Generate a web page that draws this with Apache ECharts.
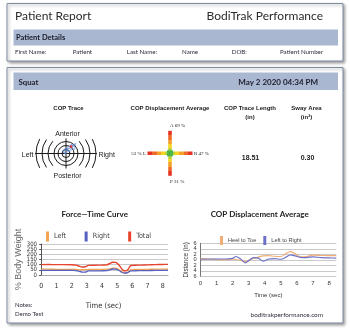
<!DOCTYPE html>
<html>
<head>
<meta charset="utf-8">
<script src="https://cdn.jsdelivr.net/npm/echarts@6/dist/echarts.min.js"></script>
<style>
  html, body { margin: 0; padding: 0; background: #fff; }
  #report { width: 350px; height: 328px; }
</style>
</head>
<body>
<div id="report"></div>
<script>
// ---- Force–time curve (% body weight) ----
const forceTime  = [0, 0.5, 1, 1.5, 2, 2.3, 2.5, 2.7, 2.9, 3.1, 3.5, 4, 4.3, 4.5, 4.7, 4.9, 5.1, 5.3, 5.5, 5.7, 5.9, 6.2, 6.6, 7, 7.5, 8, 8.35];
const forceLeft  = [56, 56, 55, 55, 55, 53, 50, 51, 52, 54, 55, 55, 56, 60, 66, 66, 54, 33, 21, 28, 52, 54, 54, 55, 56, 57, 58];
const forceRight = [44, 45, 45, 45, 44, 42, 35, 27, 28, 39, 40, 41, 42, 50, 58, 56, 46, 27, 17, 22, 40, 41, 42, 43, 44, 45, 45];
const forceTotal = [100, 101, 100, 100, 99, 95, 85, 78, 80, 93, 95, 96, 98, 110, 124, 122, 100, 60, 38, 50, 92, 95, 96, 98, 100, 102, 103];
const timeTicks  = [0, 1, 2, 3, 4, 5, 6, 7, 8];
const forceTicks = [0, 50, 100, 150, 200, 250, 300];

// ---- COP displacement over time (in) ----
const copTime     = [0, 0.5, 1, 1.5, 2, 2.2, 2.5, 2.8, 3.0, 3.3, 3.6, 3.9, 4.2, 4.6, 5.0, 5.3, 5.6, 5.9, 6.2, 6.6, 7, 7.5, 8, 8.45];
const heelToToe   = [0.4, 0.2, 0.1, 0.0, 0.2, 0.1, -0.2, -0.7, -0.2, 0.5, 1.0, 1.4, 1.5, 1.3, 1.2, 2.2, 3.0, 2.2, 1.1, 1.2, 1.7, 1.6, 1.5, 1.5];
const leftToRight = [0.2, 0.3, 0.3, 0.3, 0.5, 1.2, 0.3, -1.1, -0.3, 0.8, 0.6, -0.5, 0.2, 0.4, 0.2, 0.9, 1.8, 1.4, 0.9, 0.8, 1.1, 0.8, 0.7, 0.6];
const distTicks   = [-6, -4, -2, 0, 2, 4, 6];

// ---- COP trace path (mediolateral x, anteroposterior y) ----
const traceX = [-1, -3, -2, 0, 2, 1, -1, -2, 0, 3, 5, 4, 2, 1, 3, 6, 8, 9, 7, 5, 4, 6, 8, 10, 8, 5];
const traceY = [0, 2, 4, 5, 3, 1, 0, 2, 4, 5, 4, 2, 3, 5, 7, 6, 4, 6, 8, 9, 7, 6, 8, 10, 9, 7];

// ---- Summary values ----
const dispAnterior = 69, dispPosterior = 31, dispLeft = 53, dispRight = 47;
const traceLength = 18.51, swayArea = 0.30;

const pairs = (xs, ys) => xs.map((x, i) => [x, ys[i]]);
// alternate ticks, so that each of two stacked label sets stays legible
const evenTicks = ts => ts.filter((_, i) => i % 2 === 0);
const oddTicks = ts => ts.filter((_, i) => i % 2 === 1);

const CAL = "Lato, 'Open Sans', sans-serif";
const ARIAL = "'Liberation Sans', Arial, sans-serif";
const NARROW = "'Liberation Sans Narrow', 'DejaVu Sans Condensed', 'Liberation Sans', sans-serif";
const SERIF = "'Liberation Serif', 'DejaVu Serif', serif";

function txt(x, y, text, size, opts) {
  opts = opts || {};
  return {
    type: 'text', x: x, y: y, z: 5,
    style: {
      text: text, fontSize: size, fontFamily: opts.font || CAL,
      fontWeight: opts.bold ? 'bold' : 'normal',
      fill: opts.color || '#222', align: opts.align || 'left', verticalAlign: 'middle'
    }
  };
}

// target rings of the trace plot
const tcx = 66, tcy = 153.5;
const rings = [4, 8, 12].map(r => ({
  type: 'circle', z: 3, shape: { cx: tcx, cy: tcy, r: r },
  style: { fill: 'none', stroke: '#1a1a1a', lineWidth: 1 }
}));
const arcs = [];
[[18, 0.75], [24, 0.62], [30, 0.5]].forEach(([r, a]) => {
  arcs.push({ type: 'arc', z: 3, shape: { cx: tcx, cy: tcy, r: r, startAngle: -a, endAngle: a },
    style: { fill: 'none', stroke: '#1a1a1a', lineWidth: 1 } });
  arcs.push({ type: 'arc', z: 3, shape: { cx: tcx, cy: tcy, r: r, startAngle: Math.PI - a, endAngle: Math.PI + a },
    style: { fill: 'none', stroke: '#1a1a1a', lineWidth: 1 } });
});

// colour scale of the displacement cross
const scaleStops = [
  [0, '#e53325'], [0.1, '#e53325'], [0.1, '#ef6a2a'], [0.2, '#ef6a2a'], [0.2, '#f3a12c'], [0.3, '#f3a12c'],
  [0.3, '#f5d423'], [0.38, '#f5d423'], [0.38, '#b9d233'], [0.44, '#b9d233'], [0.44, '#4cb64a'], [0.56, '#4cb64a'],
  [0.56, '#b9d233'], [0.62, '#b9d233'], [0.62, '#f5d423'], [0.7, '#f5d423'], [0.7, '#f3a12c'], [0.8, '#f3a12c'],
  [0.8, '#ef6a2a'], [0.9, '#ef6a2a'], [0.9, '#e53325'], [1, '#e53325']
].map(([o, c]) => ({ offset: o, color: c }));
const ccx = 170, ccy = 153.3, half = 22.5, bw = 3.6;

const boxStyle = {
  fill: '#fff', stroke: '#7e8ca2', lineWidth: 1,
  shadowBlur: 3, shadowOffsetX: 1.5, shadowOffsetY: 1.5, shadowColor: 'rgba(0,0,0,0.35)'
};

const graphics = [
  { type: 'rect', z: 0, shape: { x: 7, y: 3.5, width: 336, height: 57.5 }, style: boxStyle },
  { type: 'rect', z: 0, shape: { x: 7, y: 67.5, width: 336, height: 255.5 }, style: boxStyle },
  { type: 'rect', z: 1, shape: { x: 13.5, y: 29.5, width: 324.5, height: 16 }, style: { fill: '#a9b7d1' } },
  { type: 'rect', z: 1, shape: { x: 13.5, y: 72.5, width: 324.5, height: 17.5 }, style: { fill: '#a9b7d1' } },

  txt(15, 15.7, 'Patient Report', 12, { color: '#2b2b2b' }),
  txt(323, 15.7, 'BodiTrak Performance', 12, { color: '#2b2b2b', align: 'right' }),
  txt(16, 37.6, 'Patient Details', 7.5, { bold: true, color: '#1c1c2a' }),
  txt(15, 52.4, 'First Name:', 6.2, { color: '#2a2a3a' }),
  txt(72.7, 52.4, 'Patient', 6.2, { color: '#2a2a3a' }),
  txt(126.7, 52.4, 'Last Name:', 6.2, { color: '#2a2a3a' }),
  txt(182, 52.4, 'Name', 6.2, { color: '#2a2a3a' }),
  txt(231.7, 52.4, 'DOB:', 6.2, { color: '#2a2a3a' }),
  txt(280, 52.4, 'Patient Number', 6.2, { color: '#2a2a3a' }),

  txt(18.5, 82, 'Squat', 7.8, { bold: true, color: '#1c1c2a' }),
  txt(318, 82, 'May 2 2020 04:34 PM', 8, { bold: true, color: '#1c1c2a', align: 'right' }),

  txt(68.5, 108.4, 'COP Trace', 6, { bold: true, font: ARIAL, align: 'center' }),
  txt(170, 108.4, 'COP Displacement Average', 6, { bold: true, font: ARIAL, align: 'center' }),
  txt(250, 108.4, 'COP Trace Length', 6, { bold: true, font: ARIAL, align: 'center' }),
  txt(250, 117.7, '(in)', 6, { bold: true, font: ARIAL, align: 'center' }),
  txt(306.5, 108.4, 'Sway Area', 6, { bold: true, font: ARIAL, align: 'center' }),
  txt(306.5, 117.7, '(in\u00b2)', 6, { bold: true, font: ARIAL, align: 'center' }),
  txt(250.5, 158.3, traceLength.toFixed(2), 7, { bold: true, font: ARIAL, align: 'center' }),
  txt(307.5, 158.3, swayArea.toFixed(2), 7, { bold: true, font: ARIAL, align: 'center' }),

  // trace plot crosshair and labels
  { type: 'line', z: 3, shape: { x1: tcx - 31, y1: tcy, x2: tcx + 31, y2: tcy }, style: { stroke: '#1a1a1a', lineWidth: 1 } },
  { type: 'line', z: 3, shape: { x1: tcx, y1: tcy - 15, x2: tcx, y2: tcy + 15 }, style: { stroke: '#1a1a1a', lineWidth: 1 } },
  ...rings, ...arcs,
  txt(67.5, 133.8, 'Anterior', 7, { font: ARIAL, align: 'center' }),
  txt(67.5, 176, 'Posterior', 7, { font: ARIAL, align: 'center' }),
  txt(33.5, 155, 'Left', 7, { font: ARIAL, align: 'right' }),
  txt(98.5, 155, 'Right', 7, { font: ARIAL }),

  // displacement cross
  { type: 'rect', z: 3, shape: { x: ccx - half, y: ccy - bw / 2, width: half * 2, height: bw },
    style: { fill: { type: 'linear', x: 0, y: 0, x2: 1, y2: 0, colorStops: scaleStops } } },
  { type: 'rect', z: 3, shape: { x: ccx - bw / 2, y: ccy - half, width: bw, height: half * 2 },
    style: { fill: { type: 'linear', x: 0, y: 0, x2: 0, y2: 1, colorStops: scaleStops } } },
  { type: 'rect', z: 4, shape: { x: ccx - 3, y: ccy - 3, width: 6, height: 6 }, style: { fill: '#4cb64a' } },
  txt(ccx, ccy - half - 5, 'A ' + dispAnterior + ' %', 5, { font: SERIF, align: 'left' }),
  txt(ccx, ccy + half + 5.5, 'P ' + dispPosterior + ' %', 5, { font: SERIF, align: 'left' }),
  txt(ccx - half - 1.5, ccy, dispLeft + ' % L', 5, { font: SERIF, align: 'right' }),
  txt(ccx + half + 1.5, ccy, 'R ' + dispRight + ' %', 5, { font: SERIF, align: 'left' }),

  // chart titles
  txt(94.7, 214, 'Force\u2014Time Curve', 8, { bold: true, align: 'center' }),
  txt(259.7, 214.3, 'COP Displacement Average', 8, { bold: true, align: 'center' }),

  // footer
  txt(15, 305, 'Notes:', 6, { color: '#2a2a3a' }),
  txt(15, 314.5, 'Demo Test', 6, { color: '#2a2a3a' }),
  txt(323, 314.5, 'boditrakperformance.com', 6.4, { color: '#2a2a3a', align: 'right' })
];

const chart = echarts.init(document.getElementById('report'), null, { renderer: 'canvas' });

const legendText = (font, size) => ({ fontFamily: font, fontSize: size, color: '#444' });

// secondary axis carrying the in-between tick labels of a grid
function labelAxis(gridIndex, min, max, ticks, font, size, margin, formatter) {
  return {
    gridIndex: gridIndex, type: 'value', position: 'left', min: min, max: max,
    axisLine: { show: false }, axisTick: { show: false }, splitLine: { show: false },
    axisLabel: { customValues: ticks, fontFamily: font, fontSize: size, color: '#333', margin: margin,
      hideOverlap: false, showMinLabel: true, showMaxLabel: true, formatter: formatter }
  };
}
const absLabel = v => String(Math.abs(v));

chart.setOption({
  animation: false,
  backgroundColor: '#fff',
  graphic: { elements: graphics },
  legend: [
    {
      data: ['Left', 'Right', 'Total'], left: 41, top: 226.5,
      icon: 'rect', itemWidth: 3, itemHeight: 10, itemGap: 18.5,
      textStyle: legendText(NARROW, 7.2)
    },
    {
      data: ['Heel to Toe', 'Left to Right'], left: 215, top: 231,
      icon: 'rect', itemWidth: 3, itemHeight: 9, itemGap: 7,
      textStyle: legendText(ARIAL, 5.6)
    }
  ],
  grid: [
    { left: 39, top: 244, width: 129, height: 31 },
    { left: 200.5, top: 243.3, width: 135.8, height: 33 },
    { left: tcx - 32, top: tcy - 32, width: 64, height: 64 }
  ],
  xAxis: [
    {
      gridIndex: 0, type: 'value', min: -0.15, max: 8.35,
      name: 'Time (sec)', nameLocation: 'middle', nameGap: 27,
      nameTextStyle: { fontFamily: NARROW, fontSize: 7.6, color: '#333' },
      axisLine: { show: true, lineStyle: { color: '#aaa' } },
      axisTick: { show: false },
      splitLine: { show: false },
      axisLabel: { customValues: timeTicks, fontFamily: NARROW, fontSize: 7, color: '#333', margin: 8 }
    },
    {
      gridIndex: 1, type: 'value', min: 0, max: 8.45,
      name: 'Time (sec)', nameLocation: 'middle', nameGap: 16,
      nameTextStyle: { fontFamily: ARIAL, fontSize: 6, color: '#333' },
      axisLine: { show: false },
      axisTick: { show: false },
      splitLine: { show: false },
      axisLabel: { customValues: timeTicks, fontFamily: ARIAL, fontSize: 6, color: '#333', margin: 4 }
    },
    { gridIndex: 2, type: 'value', min: -32, max: 32, show: false }
  ],
  yAxis: [
    {
      gridIndex: 0, type: 'value', position: 'left',
      min: forceTicks[0], max: forceTicks[forceTicks.length - 1], interval: 50,
      name: '% Body Weight', nameLocation: 'middle', nameRotate: 90, nameGap: 16,
      nameTextStyle: { fontFamily: ARIAL, fontSize: 9, color: '#666' },
      axisLine: { show: true, lineStyle: { color: '#555' } },
      axisTick: { show: true, length: 2, lineStyle: { color: '#555' } },
      splitLine: { lineStyle: { color: '#c9c9c9' } },
      axisLabel: { customValues: evenTicks(forceTicks), fontFamily: NARROW, fontSize: 6, color: '#333', margin: 2,
        hideOverlap: false, showMinLabel: true, showMaxLabel: true }
    },
    {
      gridIndex: 1, type: 'value', position: 'left',
      min: distTicks[0], max: distTicks[distTicks.length - 1], interval: 2,
      name: 'Distance (in)', nameLocation: 'middle', nameRotate: 90, nameGap: 11,
      nameTextStyle: { fontFamily: ARIAL, fontSize: 6.3, color: '#333' },
      axisLine: { show: true, lineStyle: { color: '#777' } },
      axisTick: { show: false },
      splitLine: { lineStyle: { color: '#c9c9c9' } },
      axisLabel: { customValues: evenTicks(distTicks), fontFamily: ARIAL, fontSize: 5.6, color: '#333', margin: 4,
        hideOverlap: false, showMinLabel: true, showMaxLabel: true, formatter: absLabel }
    },
    { gridIndex: 2, type: 'value', min: -32, max: 32, show: false },
    labelAxis(0, forceTicks[0], forceTicks[forceTicks.length - 1], oddTicks(forceTicks), NARROW, 6, 2),
    labelAxis(1, distTicks[0], distTicks[distTicks.length - 1], oddTicks(distTicks), ARIAL, 5.6, 4, absLabel)
  ],
  series: [
    { name: 'Left', type: 'line', xAxisIndex: 0, yAxisIndex: 0, data: pairs(forceTime, forceLeft),
      smooth: 0.3, showSymbol: false, color: '#f2a455', lineStyle: { width: 1.3 } },
    { name: 'Right', type: 'line', xAxisIndex: 0, yAxisIndex: 0, data: pairs(forceTime, forceRight),
      smooth: 0.3, showSymbol: false, color: '#5561c0', lineStyle: { width: 1.3 } },
    { name: 'Total', type: 'line', xAxisIndex: 0, yAxisIndex: 0, data: pairs(forceTime, forceTotal),
      smooth: 0.3, showSymbol: false, color: '#e8432d', lineStyle: { width: 1.4 } },
    { name: 'Heel to Toe', type: 'line', xAxisIndex: 1, yAxisIndex: 1, data: pairs(copTime, heelToToe),
      smooth: 0.3, showSymbol: false, color: '#f0ae76', lineStyle: { width: 1.2 } },
    { name: 'Left to Right', type: 'line', xAxisIndex: 1, yAxisIndex: 1, data: pairs(copTime, leftToRight),
      smooth: 0.3, showSymbol: false, color: '#6d72c8', lineStyle: { width: 1.2 } },
    { name: 'COP Trace', type: 'line', xAxisIndex: 2, yAxisIndex: 2, data: pairs(traceX, traceY),
      smooth: 0.4, showSymbol: false, color: '#4f86dc', lineStyle: { width: 0.8 }, z: 6 },
    { name: 'COP End', type: 'scatter', xAxisIndex: 2, yAxisIndex: 2,
      data: [[traceX[traceX.length - 1], traceY[traceY.length - 1]]],
      symbolSize: 3, color: '#e02424', z: 7 }
  ]
});
</script>
</body>
</html>
